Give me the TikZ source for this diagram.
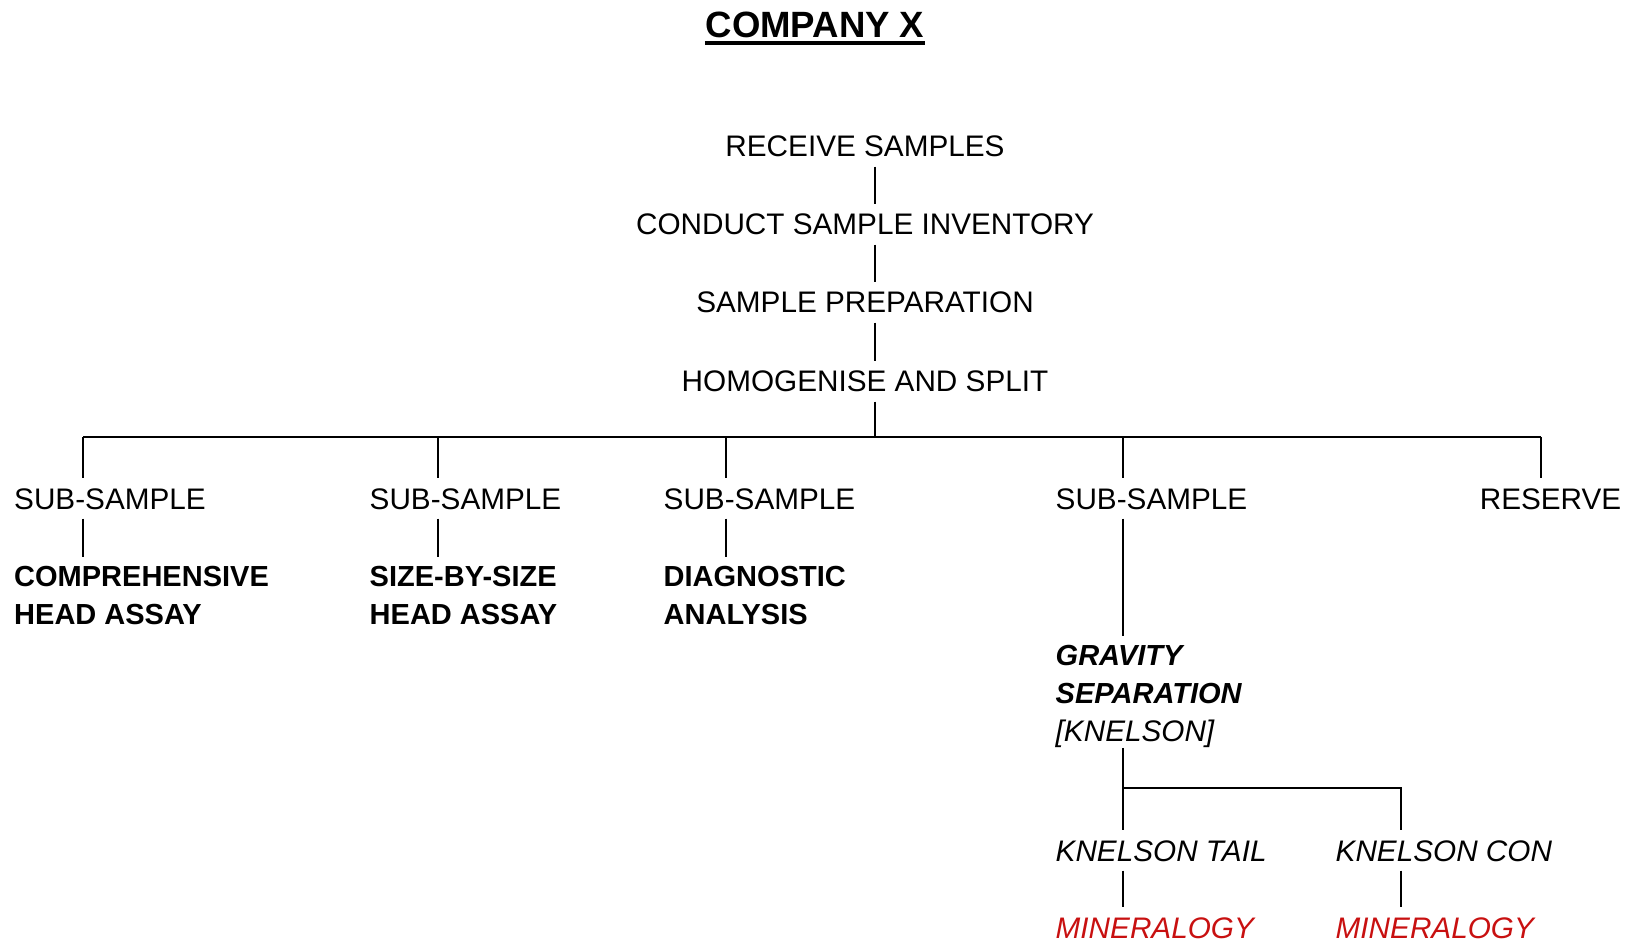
\documentclass[tikz,border=0pt]{standalone}
\usepackage{fontspec}
\setmainfont{Liberation Sans}
\definecolor{minred}{RGB}{200,16,16}
\newcommand\diagfont{\fontsize{8.45pt}{10.81pt}\selectfont}
\newcommand\diagbold{\fontsize{8.25pt}{10.81pt}\selectfont\bfseries}

\begin{document}
\begin{tikzpicture}[x=0.01cm,y=-0.01cm,
    every node/.style={font=\diagfont,inner xsep=0pt,inner ysep=0.09cm},
    stage/.style={text height=0.215cm,text depth=0pt,anchor=base},
    stagel/.style={stage,anchor=base west},
    result/.style={align=left,anchor=north west,font=\diagbold},
    link/.style={line width=0.6pt}]
    \useasboundingbox (0,0) rectangle (1627,940);
    % title
    \node[font=\fontsize{10.4pt}{12pt}\selectfont\bfseries,anchor=base,inner sep=0pt] (ttl) at (815,37.5) {COMPANY X};
    \draw[line width=1.1pt] ([yshift=-0.055cm]ttl.base west) -- ([yshift=-0.055cm]ttl.base east);
    % main line
    \node[stage] (rs) at (865,157) {RECEIVE SAMPLES};
    \node[stage] (csi) at (865,235) {CONDUCT SAMPLE INVENTORY};
    \node[stage] (sp) at (865,313) {SAMPLE PREPARATION};
    \node[stage] (hs) at (865,392) {HOMOGENISE AND SPLIT};
    \coordinate (spine) at (875,437);
    \draw[link] (rs.south -| spine) -- (csi.north -| spine);
    \draw[link] (csi.south -| spine) -- (sp.north -| spine);
    \draw[link] (sp.south -| spine) -- (hs.north -| spine);
    \draw[link] (hs.south -| spine) -- (spine);
    % split
    \coordinate (j1) at (83,437);
    \coordinate (j2) at (438,437);
    \coordinate (j3) at (726,437);
    \coordinate (j4) at (1123,437);
    \coordinate (j5) at (1541,437);
    \draw[link] (j1) -- (j5);
    \node[stagel] (sub1) at (13.5,509) {SUB-SAMPLE};
    \node[stagel] (sub2) at (369,509) {SUB-SAMPLE};
    \node[stagel] (sub3) at (663,509) {SUB-SAMPLE};
    \node[stagel] (sub4) at (1055,509) {SUB-SAMPLE};
    \node[stage,anchor=base east] (res) at (1622,509) {RESERVE};
    \foreach \i in {1,...,4}
        \draw[link] (j\i) -- (sub\i.north -| j\i);
    \draw[link] (j5) -- (res.north -| j5);
    % tests
    \node[result] (cha) at (13.5,557) {COMPREHENSIVE\\HEAD ASSAY};
    \node[result] (sha) at (369,557) {SIZE-BY-SIZE\\HEAD ASSAY};
    \node[result] (dia) at (663,557) {DIAGNOSTIC\\ANALYSIS};
    \draw[link] (sub1.south -| j1) -- (cha.north -| j1);
    \draw[link] (sub2.south -| j2) -- (sha.north -| j2);
    \draw[link] (sub3.south -| j3) -- (dia.north -| j3);
    % gravity
    \node[result,font=\diagfont\itshape] (grav) at (1055,636) {{\diagbold GRAVITY}\\{\diagbold SEPARATION}\\{[KNELSON]}};
    \draw[link] (sub4.south -| j4) -- (grav.north -| j4);
    \coordinate (fork) at (1123,788);
    \coordinate (forkr) at (1401,788);
    \node[stagel,font=\diagfont\itshape] (tail) at (1055,861) {KNELSON TAIL};
    \node[stagel,font=\diagfont\itshape] (con) at (1335,861) {KNELSON CON};
    \node[stagel,font=\diagfont\itshape,text=minred] (min1) at (1055,938) {MINERALOGY};
    \node[stagel,font=\diagfont\itshape,text=minred] (min2) at (1335,938) {MINERALOGY};
    \draw[link,shorten <=-0.1cm] (grav.south -| fork) -- (fork) -- (tail.north -| fork);
    \draw[link] (fork) -- (forkr) -- (con.north -| forkr);
    \draw[link] (tail.south -| fork) -- (min1.north -| fork);
    \draw[link] (con.south -| forkr) -- (min2.north -| forkr);
\end{tikzpicture}
\end{document}
